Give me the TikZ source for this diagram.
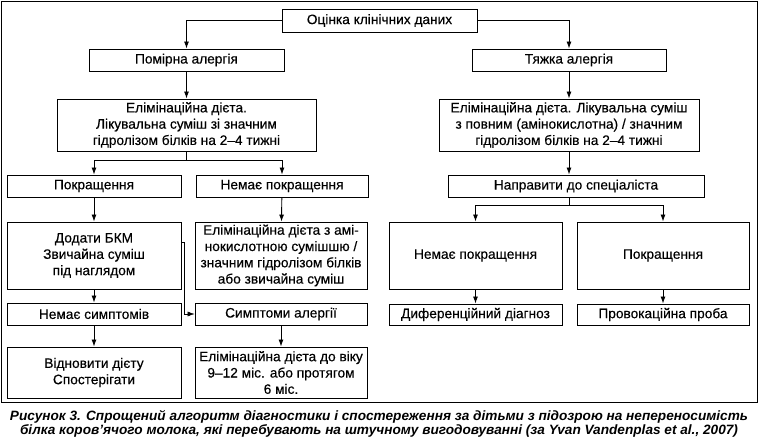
\documentclass[tikz,border=0pt]{standalone}
\usepackage{fontspec}
\setmainfont[FakeBold=0.3]{Liberation Sans}
\newfontfamily\capfont[FakeStretch=1.01]{Liberation Sans}
\usetikzlibrary{arrows.meta}

\tikzset{
  box/.style={draw, line width=0.9pt, inner sep=1pt, align=center,
    font=\fontsize{13.7}{16.3}\selectfont},
  link/.style={line width=0.9pt, -{Latex[length=7pt,width=5pt]}},
  thinlink/.style={line width=0.5pt, -{Latex[length=7pt,width=5pt]}},
}

\begin{document}
\begin{tikzpicture}[x=1pt, y=-1pt]
  \useasboundingbox (0,0) rectangle (758,438);
  % Frame
  \draw[line width=0.8pt] (1,1) rectangle (757,402);

  % Top of the tree
  \node[box, minimum width=195pt, minimum height=23pt] (eval) at (379.5,20.5) {Оцінка клінічних даних};
  \node[box, minimum width=195pt, minimum height=22pt] (mild) at (186.5,60) {Помірна алергія};
  \node[box, minimum width=194pt, minimum height=22pt] (severe) at (569,60) {Тяжка алергія};

  % Diets
  \node[box, minimum width=259pt, minimum height=52pt] (elimL) at (186.5,125)
    {Елімінаційна дієта.\\Лікувальна суміш зі значним\\гідролізом білків на 2--4 тижні};
  \node[box, minimum width=260pt, minimum height=52pt] (elimR) at (569,125)
    {Елімінаційна дієта. Лікувальна суміш\\з повним (амінокислотна) / значним\\гідролізом білків на 2--4 тижні};

  % Left branch
  \node[box, minimum width=174pt, minimum height=22pt] (betterL) at (94,186) {Покращення};
  \node[box, minimum width=172pt, minimum height=22pt] (nobetterL) at (282,186) {Немає покращення};
  \node[box, minimum width=174pt, minimum height=67pt] (addL) at (94,255.5)
    {Додати БКМ\\Звичайна суміш\\під наглядом};
  \node[box, minimum width=172pt, minimum height=67pt] (elimAmino) at (281,255.5)
    {Елімінаційна дієта з амі-\\нокислотною сумішшю /\\значним гідролізом білків\\або звичайна суміш};
  \node[box, minimum width=174pt, minimum height=22pt] (nosympt) at (94,314) {Немає симптомів};
  \node[box, minimum width=172pt, minimum height=22pt] (sympt) at (281,314) {Симптоми алергії};
  \node[box, minimum width=174pt, minimum height=51pt] (resume) at (94,372.5)
    {Відновити дієту\\Спостерігати};
  \node[box, minimum width=172pt, minimum height=51pt] (elimAge) at (281,372.5)
    {Елімінаційна дієта до віку\\9--12 міс. або протягом\\6 міс.};

  % Right branch
  \node[box, minimum width=256pt, minimum height=22pt] (refer) at (576,186) {Направити до спеціаліста};
  \node[box, minimum width=173pt, minimum height=67pt] (nobetterR) at (475.5,255.5) {Немає покращення};
  \node[box, minimum width=172pt, minimum height=67pt] (betterR) at (663,255.5) {Покращення};
  \node[box, minimum width=173pt, minimum height=21pt] (diffdx) at (475.5,314.5) {Диференційний діагноз};
  \node[box, minimum width=172pt, minimum height=21pt] (challenge) at (663,314.5) {Провокаційна проба};

  % Connectors
  \draw[link] (eval.west) -| (mild.north);
  \draw[link] (eval.east) -| (severe.north);
  \draw[link] (mild) -- (elimL);
  \draw[link] (severe) -- (elimR);
  \draw[link] (elimL.south) -- ++(0,9) -| (betterL.north);
  \draw[link] (elimL.south) -- ++(0,9) -| (nobetterL.north);
  \draw[link] (betterL) -- (addL);
  \draw[link] (addL) -- (nosympt);
  \draw[link] (nosympt) -- (resume);
  \draw[link] (nobetterL) -- (elimAmino);
  \draw[link] (sympt) -- (elimAge);
  \draw[thinlink] ([yshift=13.5pt]addL.east) -- ++(3,0) |- (sympt.west);
  \draw[link] (elimR.south) -- (elimR.south |- refer.north);
  \draw[link] (elimR.south |- refer.south) -- ++(0,8) -| (nobetterR.north);
  \draw[link] (elimR.south |- refer.south) -- ++(0,8) -| (betterR.north);
  \draw[link] (nobetterR) -- (diffdx);
  \draw[link] (betterR) -- (challenge);

  % Caption
  \node[font=\capfont\bfseries\itshape\fontsize{13.5}{14}\selectfont, align=center, inner sep=0pt] (caption) at (379,424)
    {Рисунок 3. Спрощений алгоритм діагностики і спостереження за дітьми з підозрою на непереносимість\\
     білка коров’ячого молока, які перебувають на штучному вигодовуванні (за Yvan Vandenplas et al., 2007)};
\end{tikzpicture}
\end{document}
